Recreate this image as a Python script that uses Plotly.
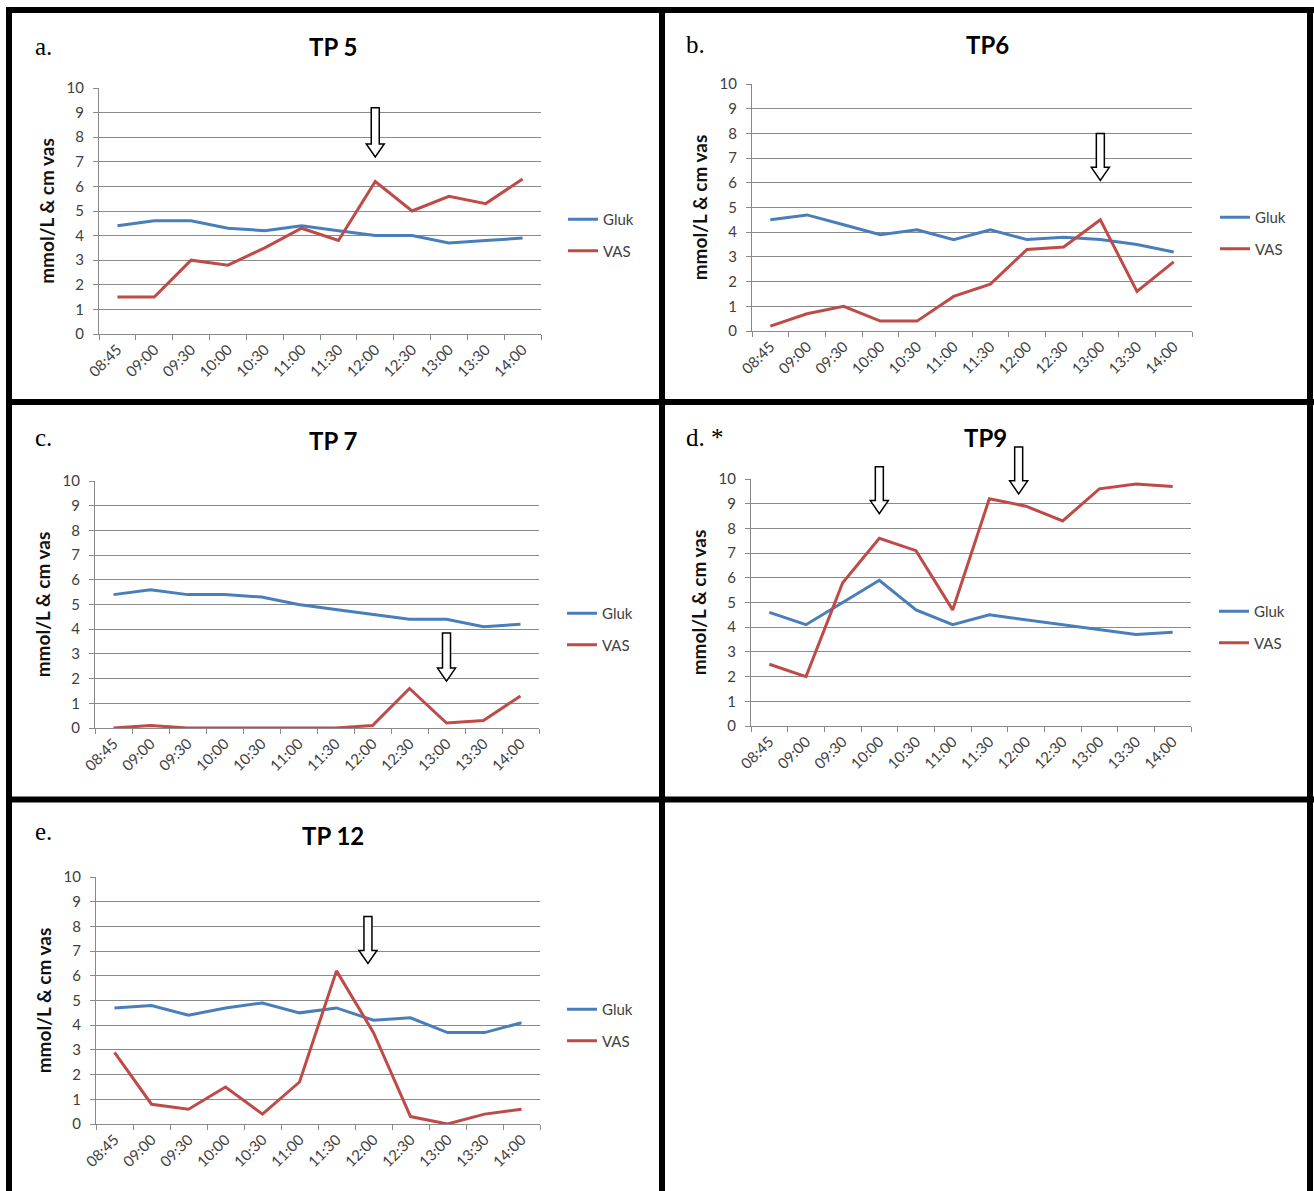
import plotly.graph_objects as go

W, H = 1314, 1191

# ---------------- data ----------------
categories = ["08:45", "09:00", "09:30", "10:00", "10:30", "11:00",
              "11:30", "12:00", "12:30", "13:00", "13:30", "14:00"]

panel_titles = ["TP 5", "TP6", "TP 7", "TP9", "TP 12"]
panel_letters = ["a.", "b.", "c.", "d. *", "e."]

tp5_gluk = [4.4, 4.6, 4.6, 4.3, 4.2, 4.4, 4.2, 4.0, 4.0, 3.7, 3.8, 3.9]
tp5_vas = [1.5, 1.5, 3.0, 2.8, 3.5, 4.3, 3.8, 6.2, 5.0, 5.6, 5.3, 6.3]

tp6_gluk = [4.5, 4.7, 4.3, 3.9, 4.1, 3.7, 4.1, 3.7, 3.8, 3.7, 3.5, 3.2]
tp6_vas = [0.2, 0.7, 1.0, 0.4, 0.4, 1.4, 1.9, 3.3, 3.4, 4.5, 1.6, 2.8]

tp7_gluk = [5.4, 5.6, 5.4, 5.4, 5.3, 5.0, 4.8, 4.6, 4.4, 4.4, 4.1, 4.2]
tp7_vas = [0.0, 0.1, 0.0, 0.0, 0.0, 0.0, 0.0, 0.1, 1.6, 0.2, 0.3, 1.3]

tp9_gluk = [4.6, 4.1, 5.0, 5.9, 4.7, 4.1, 4.5, 4.3, 4.1, 3.9, 3.7, 3.8]
tp9_vas = [2.5, 2.0, 5.8, 7.6, 7.1, 4.7, 9.2, 8.9, 8.3, 9.6, 9.8, 9.7]

tp12_gluk = [4.7, 4.8, 4.4, 4.7, 4.9, 4.5, 4.7, 4.2, 4.3, 3.7, 3.7, 4.1]
tp12_vas = [2.9, 0.8, 0.6, 1.5, 0.4, 1.7, 6.2, 3.7, 0.3, 0.0, 0.4, 0.6]

gluk_series = [tp5_gluk, tp6_gluk, tp7_gluk, tp9_gluk, tp12_gluk]
vas_series = [tp5_vas, tp6_vas, tp7_vas, tp9_vas, tp12_vas]

# arrow markers: (panel, category position, top value, tip value)
arrow_marks = [(0, 7, 9.2, 7.2), (1, 9, 8.0, 6.1), (2, 9, 3.85, 1.9),
               (3, 3, 10.5, 8.6), (3, 6.8, 11.3, 9.4), (4, 6.85, 8.4, 6.5)]

# ---------------- layout geometry (pixels) ----------------
# plot areas: (x_left, x_right, y_top, y_bottom)
areas = [(99, 541, 88, 334), (752, 1192, 84, 331), (95, 539, 481, 728),
         (751, 1191, 479, 726), (96, 540, 877, 1124)]
legend_pos = [(563, 235), (1215, 233), (562, 629), (1214, 627), (562, 1025)]
title_pos = [(333, 46), (987, 45), (333, 440), (985, 438), (333, 835)]
letter_pos = [(33, 46), (684, 45), (33, 438), (684, 437), (33, 831)]

BLUE = "#4A7EBB"
RED = "#BE4B48"
GRID = "#8A8A8A"
TXT = "#404040"
FONT = "Lato"


def px(x):
    return x / W


def py(y):
    return 1 - y / H


fig = go.Figure()
layout = dict(width=W, height=H,
              margin=dict(l=0, r=0, t=0, b=0, pad=0, autoexpand=False),
              paper_bgcolor="white", plot_bgcolor="white",
              font=dict(family=FONT, size=14, color=TXT), showlegend=True)

shapes = []
annotations = []
ncat = len(categories)

for i in range(5):
    n = "" if i == 0 else str(i + 1)
    xa, ya = "x" + n, "y" + n
    lg = "legend" + n
    fig.add_trace(go.Scatter(x=categories, y=gluk_series[i], mode="lines", name="Gluk",
                             line=dict(color=BLUE, width=3), xaxis=xa, yaxis=ya,
                             legend=lg, legendgroup="g%d" % i))
    fig.add_trace(go.Scatter(x=categories, y=vas_series[i], mode="lines", name="VAS",
                             line=dict(color=RED, width=3), xaxis=xa, yaxis=ya,
                             legend=lg, legendgroup="v%d" % i))
    x0, x1, yt, yb = areas[i]
    layout["xaxis" + n] = dict(domain=[px(x0), px(x1)], anchor=ya, type="category",
                               range=[-0.5, ncat - 0.5],
                               tickangle=-45, showline=True, linecolor=GRID, linewidth=1,
                               ticks="outside", tickson="boundaries", ticklen=5,
                               tickcolor=GRID, showgrid=False, automargin=False,
                               tickfont=dict(family=FONT, size=15, color=TXT))
    layout["yaxis" + n] = dict(domain=[py(yb), py(yt)], anchor=xa, range=[0, 10],
                               dtick=1, showgrid=True, gridcolor=GRID, gridwidth=1,
                               zeroline=False, showline=True, linecolor=GRID,
                               ticks="outside", ticklen=5, tickcolor=GRID,
                               ticklabelstandoff=6, automargin=False,
                               tickfont=dict(family=FONT, size=15, color=TXT),
                               title=dict(text="<b>mmol/L &amp; cm vas</b>", standoff=6,
                                          font=dict(family=FONT, size=19, weight="bold",
                                                    color="#111111")))
    lx, ly = legend_pos[i]
    layout[lg] = dict(x=px(lx), y=py(ly), xanchor="left", yanchor="middle",
                      bgcolor="rgba(0,0,0,0)", tracegroupgap=9,
                      font=dict(family=FONT, size=15, color=TXT))
    tx, ty = title_pos[i]
    annotations.append(dict(text="<b>%s</b>" % panel_titles[i], x=px(tx), y=py(ty),
                            xref="paper", yref="paper", showarrow=False,
                            xanchor="center", yanchor="middle",
                            font=dict(family=FONT, size=24, color="black")))
    lx2, ly2 = letter_pos[i]
    annotations.append(dict(text=panel_letters[i], x=px(lx2), y=py(ly2),
                            xref="paper", yref="paper", showarrow=False,
                            xanchor="left", yanchor="middle",
                            font=dict(family="Liberation Serif", size=25, color="black")))

# arrows
for (p, pos, vtop, vtip) in arrow_marks:
    x0, x1, yt, yb = areas[p]
    cx = x0 + (pos + 0.5) * (x1 - x0) / ncat
    ytop = yb - vtop * (yb - yt) / 10
    ytip = yb - vtip * (yb - yt) / 10
    hs = ytip - 13
    pts = [(cx - 4, ytop), (cx + 4, ytop), (cx + 4, hs), (cx + 9, hs), (cx, ytip),
           (cx - 9, hs), (cx - 4, hs)]
    path = "M " + " L ".join("%.5f %.5f" % (px(a), py(b)) for a, b in pts) + " Z"
    shapes.append(dict(type="path", path=path, xref="paper", yref="paper",
                       fillcolor="white", line=dict(color="black", width=1.5)))

# panel borders
BW = 6
for yy in [10, 402, 799.5]:
    shapes.append(dict(type="line", xref="paper", yref="paper", x0=px(6), x1=px(1314),
                       y0=py(yy), y1=py(yy), line=dict(color="black", width=BW)))
for xx in [9, 662, 1310]:
    shapes.append(dict(type="line", xref="paper", yref="paper", x0=px(xx), x1=px(xx),
                       y0=py(7), y1=py(1191), line=dict(color="black", width=BW)))

layout["shapes"] = shapes
layout["annotations"] = annotations
fig.update_layout(**layout)
fig.write_html("out.html", config={"displayModeBar": False},
               post_script="document.body.style.margin='0';document.body.style.overflow='hidden';")
